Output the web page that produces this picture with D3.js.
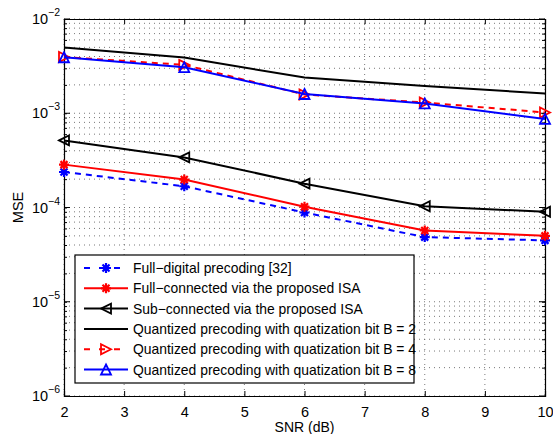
<!DOCTYPE html>
<html>
<head>
<meta charset="utf-8">
<script src="https://cdn.jsdelivr.net/npm/d3@7"></script>
<style>
  body { margin: 0; background: #fff; }
  text { font-family: "Liberation Sans", Arial, sans-serif; }
</style>
</head>
<body>
<svg id="chart" width="553" height="434"></svg>
<script>
// SNR values (x axis)
const snr = [2, 4, 6, 8, 10];

// MSE series
const fullDigital = [2.38e-4, 1.68e-4, 8.85e-5, 4.85e-5, 4.48e-5];
const fullConnected = [2.85e-4, 1.98e-4, 1.02e-4, 5.7e-5, 5.0e-5];
const subConnected = [5.15e-4, 3.4e-4, 1.79e-4, 1.03e-4, 9.0e-5];
const quantB2 = [4.97e-3, 3.9e-3, 2.39e-3, 1.95e-3, 1.62e-3];
const quantB4 = [3.95e-3, 3.26e-3, 1.58e-3, 1.3e-3, 1.02e-3];
const quantB8 = [3.93e-3, 3.08e-3, 1.6e-3, 1.27e-3, 8.7e-4];

const xTicks = [2, 3, 4, 5, 6, 7, 8, 9, 10];
const yExps = [-6, -5, -4, -3, -2];

const series = [
    { name: "Full\u2212digital precoding [32]", values: fullDigital, color: "#0000ff", dash: "6,5", marker: "star" },
    { name: "Full\u2212connected via the proposed ISA", values: fullConnected, color: "#ff0000", dash: null, marker: "star" },
    { name: "Sub\u2212connected via the proposed ISA", values: subConnected, color: "#000000", dash: null, marker: "triLeft" },
    { name: "Quantized precoding with quatization bit B = 2", values: quantB2, color: "#000000", dash: null, marker: "dot" },
    { name: "Quantized precoding with quatization bit B = 4", values: quantB4, color: "#ff0000", dash: "6,5", marker: "triRight" },
    { name: "Quantized precoding with quatization bit B = 8", values: quantB8, color: "#0000ff", dash: null, marker: "triUp" }
];

const margin = { top: 19, right: 8, bottom: 38, left: 64 };
const width = 553 - margin.left - margin.right;
const height = 434 - margin.top - margin.bottom;

const svg = d3.select("#chart");
const g = svg.append("g")
    .attr("transform", "translate(" + margin.left + "," + margin.top + ")");

const x = d3.scaleLinear().domain([2, 10]).range([0, width]);
const y = d3.scaleLog().domain([1e-6, 1e-2]).range([height, 0]);

// grid lines (dotted, like matlab)
const minorY = [];
yExps.slice(0, -1).forEach(e => {
    for (let k = 1; k <= 9; k++) minorY.push(k * Math.pow(10, e));
});
minorY.push(1e-2);

g.append("g").selectAll("line")
    .data(minorY)
    .enter().append("line")
    .attr("x1", 0).attr("x2", width)
    .attr("y1", d => y(d)).attr("y2", d => y(d))
    .attr("stroke", "#555").attr("stroke-width", 0.8)
    .attr("stroke-dasharray", "1,4");

g.append("g").selectAll("line")
    .data(xTicks)
    .enter().append("line")
    .attr("x1", d => x(d)).attr("x2", d => x(d))
    .attr("y1", 0).attr("y2", height)
    .attr("stroke", "#555").attr("stroke-width", 0.8)
    .attr("stroke-dasharray", "1,4");

// axes, ticks pointing inwards
const xAxis = d3.axisBottom(x).tickValues(xTicks).tickSize(-5).tickPadding(11).tickFormat(d3.format("d"));
const xTop = d3.axisTop(x).tickValues(xTicks).tickSize(-5).tickFormat("");
const yAxis = d3.axisLeft(y).tickValues(minorY).tickSize(-3).tickFormat("");
const yRight = d3.axisRight(y).tickValues(minorY).tickSize(-3).tickFormat("");

g.append("g").attr("class", "axis").attr("transform", "translate(0," + height + ")").call(xAxis);
g.append("g").attr("class", "axis").call(xTop);
g.append("g").attr("class", "axis").call(yAxis);
g.append("g").attr("class", "axis").attr("transform", "translate(" + width + ",0)").call(yRight);

// major y ticks a bit longer
g.append("g").selectAll("line")
    .data(yExps)
    .enter().append("line")
    .attr("x1", 0).attr("x2", 6)
    .attr("y1", d => y(Math.pow(10, d))).attr("y2", d => y(Math.pow(10, d)))
    .attr("stroke", "#000");
g.append("g").selectAll("line")
    .data(yExps)
    .enter().append("line")
    .attr("x1", width).attr("x2", width - 6)
    .attr("y1", d => y(Math.pow(10, d))).attr("y2", d => y(Math.pow(10, d)))
    .attr("stroke", "#000");

g.selectAll(".axis path").attr("stroke", "#000").attr("stroke-width", 1.2);
g.selectAll(".axis line").attr("stroke", "#000");
g.selectAll(".axis text").attr("font-size", 14.5).attr("fill", "#000")
    .style("font-family", "Liberation Sans, Arial, sans-serif");

// y tick labels 10^e
const yLab = g.append("g").selectAll("text")
    .data(yExps)
    .enter().append("text")
    .attr("x", -4)
    .attr("y", d => y(Math.pow(10, d)) + 5)
    .attr("text-anchor", "end")
    .attr("font-size", 14.5);
yLab.append("tspan").text("10");
yLab.append("tspan").attr("dy", -8).attr("font-size", 10.5).text(d => "\u2212" + Math.abs(d));

// axis titles
g.append("text")
    .attr("x", width / 2).attr("y", height + 36)
    .attr("text-anchor", "middle").attr("font-size", 14)
    .text("SNR (dB)");
g.append("text")
    .attr("transform", "translate(-41," + (height / 2) + ") rotate(-90)")
    .attr("text-anchor", "middle").attr("font-size", 14.5)
    .text("MSE");

// markers
function drawMarker(sel, type, color, size) {
    const s = size;
    if (type === "star") {
        sel.append("path")
            .attr("d", "M" + (-s) + ",0H" + s + "M0," + (-s) + "V" + s +
                "M" + (-s * 0.7) + "," + (-s * 0.7) + "L" + (s * 0.7) + "," + (s * 0.7) +
                "M" + (-s * 0.7) + "," + (s * 0.7) + "L" + (s * 0.7) + "," + (-s * 0.7))
            .attr("stroke", color).attr("stroke-width", 2.2).attr("fill", "none");
        sel.append("circle").attr("r", s * 0.55).attr("fill", color);
    } else if (type === "triLeft") {
        sel.append("path").attr("d", "M" + (-s) + ",0L" + s + "," + (-s) + "L" + s + "," + s + "Z")
            .attr("stroke", color).attr("stroke-width", 1.8).attr("fill", "none");
    } else if (type === "triRight") {
        sel.append("path").attr("d", "M" + s + ",0L" + (-s) + "," + (-s) + "L" + (-s) + "," + s + "Z")
            .attr("stroke", color).attr("stroke-width", 1.8).attr("fill", "none");
    } else if (type === "triUp") {
        sel.append("path").attr("d", "M0," + (-s) + "L" + s + "," + s + "L" + (-s) + "," + s + "Z")
            .attr("stroke", color).attr("stroke-width", 1.8).attr("fill", "none");
    } else if (type === "dot") {
        sel.append("circle").attr("r", 1).attr("fill", color);
    }
}

const line = d3.line()
    .x((d, i) => x(snr[i]))
    .y(d => y(d));

series.forEach(s => {
    g.append("path")
        .datum(s.values)
        .attr("d", line)
        .attr("fill", "none")
        .attr("stroke", s.color)
        .attr("stroke-width", 2)
        .attr("stroke-dasharray", s.dash);
    if (s.marker !== "dot") {
        g.append("g").selectAll("g")
            .data(s.values)
            .enter().append("g")
            .attr("transform", (d, i) => "translate(" + x(snr[i]) + "," + y(d) + ")")
            .each(function () { drawMarker(d3.select(this), s.marker, s.color, 5); });
    }
});

// legend
const legend = g.append("g").attr("transform", "translate(11,236)");
legend.append("rect")
    .attr("width", 339).attr("height", 128)
    .attr("fill", "#fff").attr("stroke", "#000").attr("stroke-width", 1.2);

const rows = legend.selectAll(".row")
    .data(series)
    .enter().append("g")
    .attr("class", "row")
    .attr("transform", (d, i) => "translate(0," + (13 + i * 20.3) + ")");

rows.append("line")
    .attr("x1", 9).attr("x2", 53)
    .attr("stroke", d => d.color).attr("stroke-width", 2)
    .attr("stroke-dasharray", d => d.dash ? "6,9" : null);
rows.each(function (d) {
    const m = d3.select(this).append("g").attr("transform", "translate(31,0)");
    drawMarker(m, d.marker, d.color, 5);
});
rows.append("text")
    .attr("x", 58).attr("y", 5)
    .attr("font-size", 13.9)
    .text(d => d.name);
</script>
</body>
</html>
